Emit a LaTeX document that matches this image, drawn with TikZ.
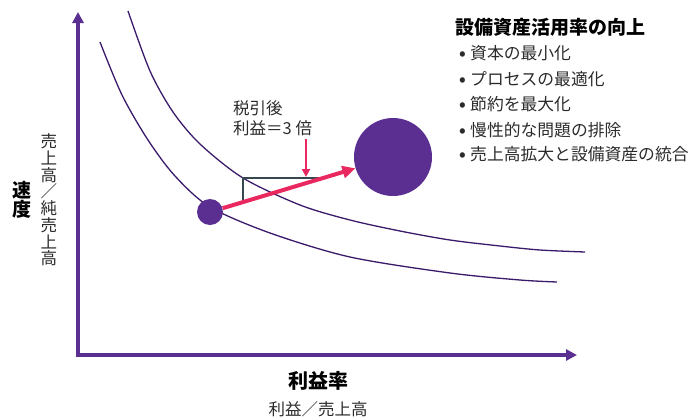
\documentclass[tikz,border=0pt]{standalone}
\usepackage{fontspec}
\setmainfont{Noto Sans CJK JP}
\usepackage{xcolor}
\definecolor{mypurple}{HTML}{5B2E91}
\definecolor{mycurve}{HTML}{3A1A6A}
\definecolor{myred}{HTML}{EA2860}
\definecolor{mygray}{HTML}{37474F}
\definecolor{mytext}{HTML}{2B2B2B}
\usetikzlibrary{arrows.meta,positioning}

\begin{document}
\begin{tikzpicture}[x=1pt,y=-1pt,
    axis/.style={draw=mypurple,line width=3.5pt},
    curve/.style={draw=mycurve,line width=1.3pt},
    dot/.style={circle,fill=mypurple,inner sep=0pt},
    gain/.style={draw=myred,line width=4pt,-{Triangle[length=13pt,width=12pt]}},
    bracket/.style={draw=mygray,line width=2.5pt},
    label/.style={text=mytext,inner sep=0pt,font=\fontsize{16.5}{20}\selectfont},
    item/.style={label,anchor=west,font=\fontsize{16.8}{20}\selectfont},
    heading/.style={text=black,inner sep=0pt,font=\bfseries\fontsize{19}{19}\selectfont}]
        \useasboundingbox (0,0) rectangle (689,416);

        % Axes
        \coordinate (origin) at (78,355);
        \coordinate (ytip) at (78,12);
        \coordinate (xtip) at (577,355);
        \draw[axis,{Triangle[length=11pt,width=11pt]}-{Triangle[length=11pt,width=11pt]}]
            (ytip) -- (origin) -- (xtip);

        % Curves
        \draw[curve] plot[smooth] coordinates {(128,11) (150,71) (173,112) (200,144) (243,178)
            (300,205) (350,220) (400,231) (450,240) (500,246) (540,250) (585,252)};
        \draw[curve] plot[smooth] coordinates {(100,42) (122,95) (148,140) (175,176) (210,207)
            (270,233) (350,257) (450,273) (520,280) (557,282)};

        % Step
        \coordinate (bl) at (243,200);
        \coordinate (tl) at (243,178);
        \coordinate (tr) at (326,178);
        \draw[bracket] (bl) -- (tl) -- (tr);

        % Points
        \node[dot,minimum size=26pt] (low) at (210,212) {};
        \node[dot,minimum size=78pt] (high) at (393,157) {};
        \draw[gain] (low) -- (high);

        % Note
        \node[label,align=left,anchor=north west] (note) at (233,100) {税引後\\利益＝3 倍};
        \coordinate (ptop) at (306,139);
        \coordinate (pbot) at (306,177);
        \draw[gain,line width=2pt,-{Triangle[length=8pt,width=8pt]}] (ptop) -- (pbot);

        % List
        \node[heading,anchor=west] (title) at (455,27) {設備資産活用率の向上};
        \node[item] (item1) at (459,53) {\makebox[11pt][l]{\bfseries •}資本の最小化};
        \node[item] (item2) at (459,79) {\makebox[11pt][l]{\bfseries •}プロセスの最適化};
        \node[item] (item3) at (459,104) {\makebox[11pt][l]{\bfseries •}節約を最大化};
        \node[item] (item4) at (459,130) {\makebox[11pt][l]{\bfseries •}慢性的な問題の排除};
        \node[item] (item5) at (459,154) {\makebox[11pt][l]{\bfseries •}売上高拡大と設備資産の統合};

        % Axis labels
        \node[heading,align=center] (ylabel) at (22,200) {速\\度};
        \node[label,align=center,font=\fontsize{16.5}{16.75}\selectfont] (ysub) at (49,200)
            {売\\上\\高\\／\\純\\売\\上\\高};
        \node[heading,font=\bfseries\fontsize{20}{20}\selectfont] (xlabel) at (318,381) {利益率};
        \node[label] (xsub) at (318,409) {利益／売上高};
\end{tikzpicture}
\end{document}
